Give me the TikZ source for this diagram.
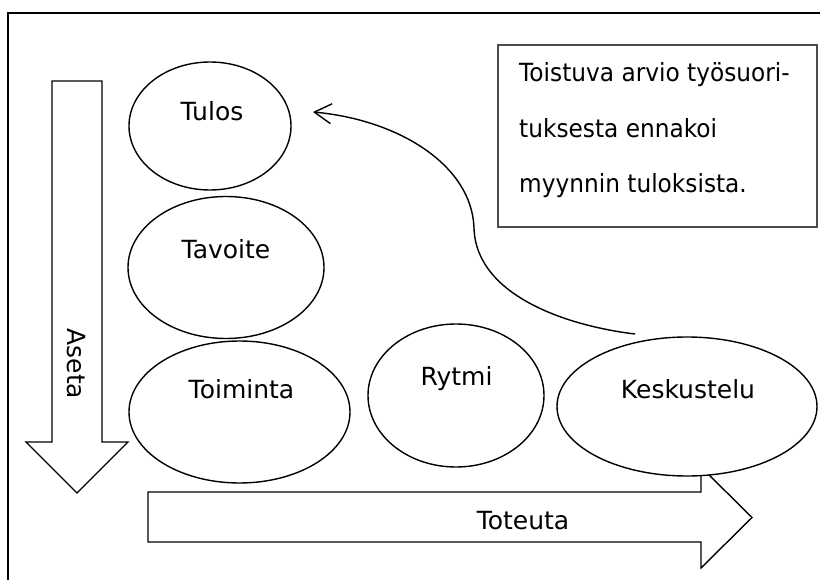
\documentclass[tikz,border=0pt]{standalone}
\usepackage{fontspec}
\setmainfont{DejaVu Sans}
\newfontfamily\notefont{DejaVu Sans}[FakeStretch=0.93]
\usetikzlibrary{shapes.geometric,arrows.meta}

\tikzset{
  outline/.style={draw=black, line width=1.4pt, line join=miter},
  blob/.style={ellipse, draw=black, line width=1.4pt, fill=white, inner sep=0pt},
  word/.style={inner sep=0pt, anchor=base, font=\fontsize{25}{30}\selectfont},
  noteline/.style={inner sep=0pt, anchor=base west, font=\notefont\fontsize{25}{30}\selectfont},
  notebox/.style={rectangle, draw=black!70, line width=1.2pt, fill=white, inner sep=0pt},
  flow/.style={draw=black, line width=1.4pt, -{Straight Barb[length=17pt, width=20pt, line width=1.4pt]}}
}

\begin{document}
\begin{tikzpicture}[x=1pt, y=-1pt]
  \clip (0,0) rectangle (820,580);
  \fill[white] (0,0) rectangle (820,580);

  % outer frame, open to the right and bottom
  \draw[line width=2pt] (8,600) -- (8,13) -- (840,13);

  % downward block arrow
  \draw[outline] (52,81) -- (102,81) -- (102,442) -- (128,442) -- (77,493)
                 -- (26,442) -- (52,442) -- cycle;
  \node[word, rotate=-90] (aseta) at (67,364) {Aseta};

  % rightward block arrow
  \draw[outline] (148,492) -- (701,492) -- (701,467) -- (752,517.5)
                 -- (701,568) -- (701,542) -- (148,542) -- cycle;
  \node[word] (toteuta) at (523,529) {Toteuta};

  % ellipses
  \node[blob, minimum width=162pt, minimum height=128pt] (tulos) at (210,126) {};
  \node[blob, minimum width=196pt, minimum height=142pt] (tavoite) at (226,267.5) {};
  \node[blob, minimum width=221pt, minimum height=142pt] (toiminta) at (239.5,412) {};
  \node[blob, minimum width=176pt, minimum height=143pt] (rytmi) at (456,395.5) {};
  \node[blob, minimum width=260pt, minimum height=139pt] (keskustelu) at (687,406.5) {};

  \node[word] (tulosT) at (212,120.7) {Tulos};
  \node[word] (tavoiteT) at (226,258.3) {Tavoite};
  \node[word] (toimintaT) at (241.5,398.3) {Toiminta};
  \node[word] (rytmiT) at (456.5,385.5) {Rytmi};
  \node[word] (keskusteluT) at (688,398.3) {Keskustelu};

  % note box
  \node[notebox, minimum width=319pt, minimum height=182pt] (note) at (657.5,136) {};
  \node[noteline] (n1) at (519,81.7) {Toistuva arvio työsuori-};
  \node[noteline] (n2) at (519,137.2) {tuksesta ennakoi};
  \node[noteline] (n3) at (519,192.7) {myynnin tuloksista.};

  % feedback curve from the discussion back to the result
  \coordinate (cstart) at (635,334);
  \coordinate (cmid) at (474,228);
  \coordinate (ctip) at (313,112);
  \draw[flow] (cstart) .. controls (568,326) and (476,296) .. (cmid)
              .. controls (472,166) and (400,120) .. (ctip);
\end{tikzpicture}
\end{document}
